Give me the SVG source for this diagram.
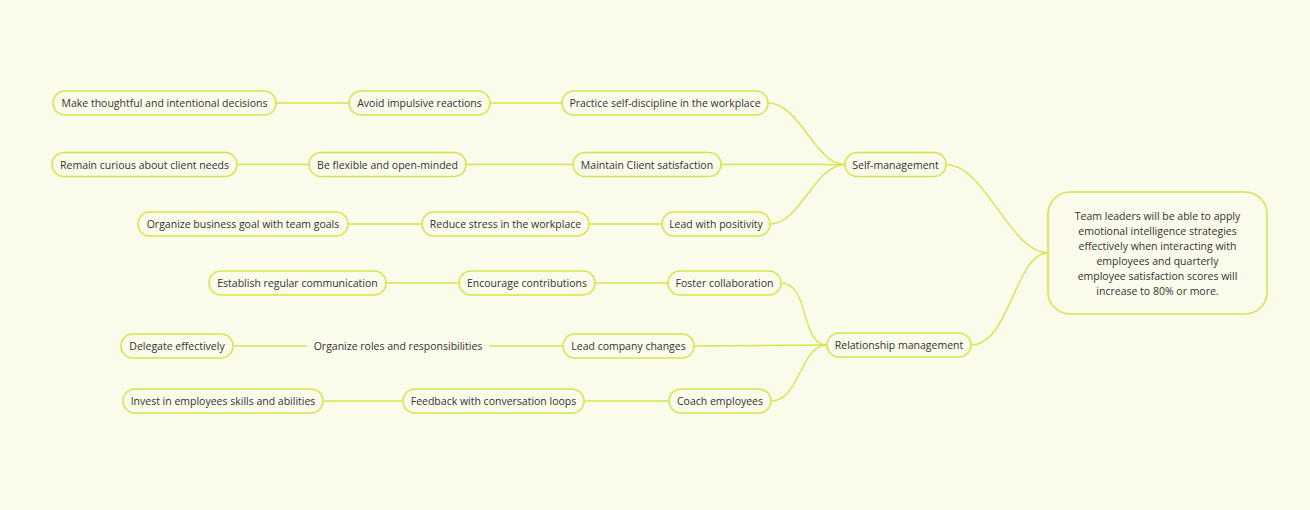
<svg xmlns="http://www.w3.org/2000/svg" width="1310" height="510" viewBox="0 0 1310 510">
<style>
.n rect{fill:#FAFBEA;stroke:#D3E64E;stroke-width:1.6}
.n text{font-family:"Open Sans","Noto Sans",sans-serif;font-size:10.5px;fill:#333;text-anchor:middle;dominant-baseline:central}
.c path{fill:none;stroke:#D3E64E;stroke-width:1.4}
</style>
<rect width="1310" height="510" fill="#FAFBEA"/>
<g class="c">
<path d="M276 103H349M490 103H562"/>
<path d="M237 164.5H309M466 164.5H573"/>
<path d="M348 224H422M589 224H662"/>
<path d="M386 283H459M595 283H668"/>
<path d="M233 346H307M489 346H563"/>
<path d="M323 401H403M584 401H669"/>
<path d="M768 103C800 103 815 164.5 845 164.5"/>
<path d="M721 164.5H845"/>
<path d="M770 224C800 224 815 164.5 845 164.5"/>
<path d="M781 283C810 283 800 345 827 345"/>
<path d="M694 346L827 345"/>
<path d="M771 401C800 401 800 345 827 345"/>
<path d="M946 164.5C985 164.5 1010 253 1048 253"/>
<path d="M971 345C1010 345 1015 253 1048 253"/>
</g>
<g class="n" id="root"><rect x="1048" y="192" width="219" height="122" rx="22"/>
<text x="1157.5" y="216">Team leaders will be able to apply</text>
<text x="1157.5" y="231">emotional intelligence strategies</text>
<text x="1157.5" y="246">effectively when interacting with</text>
<text x="1157.5" y="261">employees and quarterly</text>
<text x="1157.5" y="276">employee satisfaction scores will</text>
<text x="1157.5" y="291">increase to 80% or more.</text></g>
<g class="n" id="selfmgmt"><rect x="845" y="152.5" width="101" height="24" rx="12"/><text x="895.5" y="164.5">Self-management</text></g>
<g class="n" id="relmgmt"><rect x="827" y="333" width="144" height="24" rx="12"/><text x="899" y="345">Relationship management</text></g>
<g class="n" id="practice"><rect x="562" y="91" width="206" height="24" rx="12"/><text x="665" y="103">Practice self-discipline in the workplace</text></g>
<g class="n" id="avoid"><rect x="349" y="91" width="141" height="24" rx="12"/><text x="419.5" y="103">Avoid impulsive reactions</text></g>
<g class="n" id="make"><rect x="53" y="91" width="223" height="24" rx="12"/><text x="164.5" y="103">Make thoughtful and intentional decisions</text></g>
<g class="n" id="maintain"><rect x="573" y="152.5" width="148" height="24" rx="12"/><text x="647" y="164.5">Maintain Client satisfaction</text></g>
<g class="n" id="flexible"><rect x="309" y="152.5" width="157" height="24" rx="12"/><text x="387.5" y="164.5">Be flexible and open-minded</text></g>
<g class="n" id="curious"><rect x="52" y="152.5" width="185" height="24" rx="12"/><text x="144.5" y="164.5">Remain curious about client needs</text></g>
<g class="n" id="positivity"><rect x="662" y="212" width="108" height="24" rx="12"/><text x="716" y="224">Lead with positivity</text></g>
<g class="n" id="stress"><rect x="422" y="212" width="167" height="24" rx="12"/><text x="505.5" y="224">Reduce stress in the workplace</text></g>
<g class="n" id="organize"><rect x="138" y="212" width="210" height="24" rx="12"/><text x="243" y="224">Organize business goal with team goals</text></g>
<g class="n" id="foster"><rect x="668" y="271" width="113" height="24" rx="12"/><text x="724.5" y="283">Foster collaboration</text></g>
<g class="n" id="encourage"><rect x="459" y="271" width="136" height="24" rx="12"/><text x="527" y="283">Encourage contributions</text></g>
<g class="n" id="establish"><rect x="209" y="271" width="177" height="24" rx="12"/><text x="297.5" y="283">Establish regular communication</text></g>
<g class="n" id="leadchanges"><rect x="563" y="334" width="131" height="24" rx="12"/><text x="628.5" y="346">Lead company changes</text></g>
<g class="n" id="roles"><text x="398" y="346">Organize roles and responsibilities</text></g>
<g class="n" id="delegate"><rect x="121" y="334" width="112" height="24" rx="12"/><text x="177" y="346">Delegate effectively</text></g>
<g class="n" id="coach"><rect x="669" y="389" width="102" height="24" rx="12"/><text x="720" y="401">Coach employees</text></g>
<g class="n" id="feedback"><rect x="403" y="389" width="181" height="24" rx="12"/><text x="493.5" y="401">Feedback with conversation loops</text></g>
<g class="n" id="invest"><rect x="123" y="389" width="200" height="24" rx="12"/><text x="223" y="401">Invest in employees skills and abilities</text></g>
</svg>
